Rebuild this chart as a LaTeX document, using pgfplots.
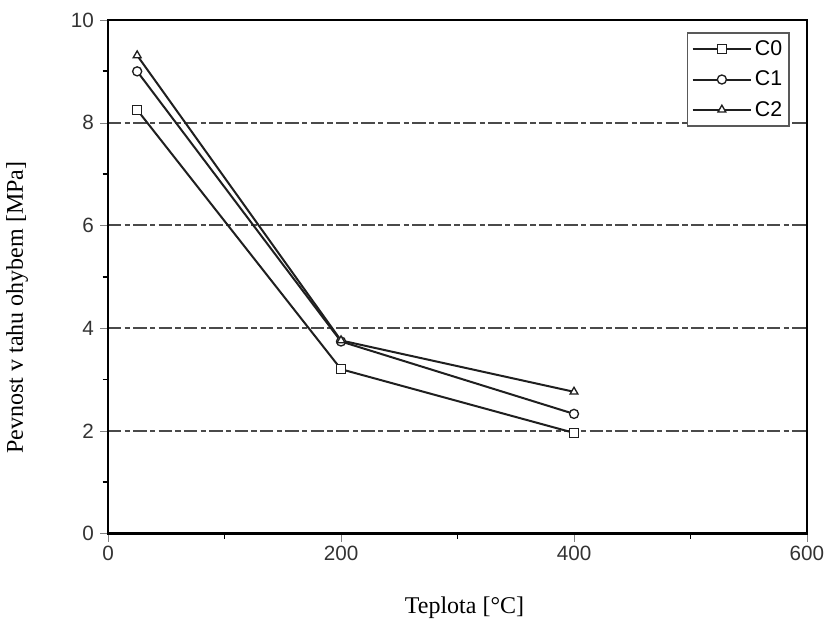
\documentclass[border=0pt]{standalone}
\usepackage{fontspec}
\setmainfont{Liberation Serif}
\setsansfont{Liberation Sans}
\usepackage{pgfplots}
\pgfplotsset{compat=1.18}
\definecolor{ticklab}{HTML}{333333}
\definecolor{gridc}{HTML}{4A4A4A}
\begin{document}
\begin{tikzpicture}
\begin{axis}[
  scale only axis,
  width=524pt, height=385pt,
  xmin=0, xmax=600, ymin=0, ymax=10,
  xtick={0,200,400,600}, ytick={0,2,4,6,8,10},
  xticklabels={0,200,400,600}, yticklabels={0,2,4,6,8,10},
  minor xtick={100,300,500}, minor ytick={1,3,5,7,9},
  xtick pos=bottom, ytick pos=left,
  xtick align=outside, ytick align=outside,
  major tick length=6pt, minor tick length=4pt,
  minor tick style={draw=black, line width=1.4pt},
  axis line style={line width=1.6pt},
  ticklabel style={font=\sffamily\fontsize{15.5}{17}\selectfont, text=ticklab},
  yticklabel style={xshift=-1pt},
  ymajorgrids,
  major grid style={gridc, line width=1.4pt, dash pattern=on 10pt off 2.5pt on 4pt off 2.5pt},
  xlabel={Teplota [°C]},
  ylabel={Pevnost v tahu ohybem [MPa]},
  label style={font=\fontsize{18}{20}\selectfont},
  xlabel style={at={(axis description cs:0.51,-0.145)}, anchor=center},
  ylabel style={at={(axis description cs:-0.13,0.44)}, anchor=center},
  legend style={at={(rel axis cs:1,1)}, anchor=north east, xshift=-13pt, yshift=-9pt,
    draw=gray!70!black, line width=1.2pt, font=\sffamily\fontsize{16}{18}\selectfont,
    row sep=6pt, inner xsep=3pt, inner ysep=4pt},
  legend cell align=left,
  legend image code/.code={\draw[mark repeat=2,mark phase=2,#1,line width=1.5pt] plot coordinates {(0pt,0pt) (22pt,0pt) (44pt,0pt)};},
  every axis plot/.append style={black!88, line width=1.5pt, mark size=3.4pt, mark options={solid, fill=white, line width=1pt}},
]
\addplot[mark=square*] coordinates {(25,8.25) (200,3.2) (400,1.96)};
\addlegendentry{C0}
\addplot[mark=*] coordinates {(25,9.0) (200,3.74) (400,2.33)};
\addlegendentry{C1}
\addplot[mark=triangle*] coordinates {(25,9.31) (200,3.76) (400,2.76)};
\addlegendentry{C2}
\end{axis}
\begin{axis}[
  scale only axis,
  width=524pt, height=385pt,
  xmin=0, xmax=600, ymin=0, ymax=10,
  xtick=\empty, ytick=\empty,
  minor xtick={0,200,400,600}, minor ytick={0,2,4,6,8,10},
  xtick pos=bottom, ytick pos=left,
  xtick align=outside, ytick align=outside,
  minor tick length=6pt,
  minor tick style={draw=black, line width=1.4pt},
  axis line style={line width=1.6pt},
]
\end{axis}
\pgfresetboundingbox
\useasboundingbox ([xshift=-81pt,yshift=-66pt]current axis.south west) rectangle ([xshift=15pt,yshift=15pt]current axis.north east);
\end{tikzpicture}
\end{document}
